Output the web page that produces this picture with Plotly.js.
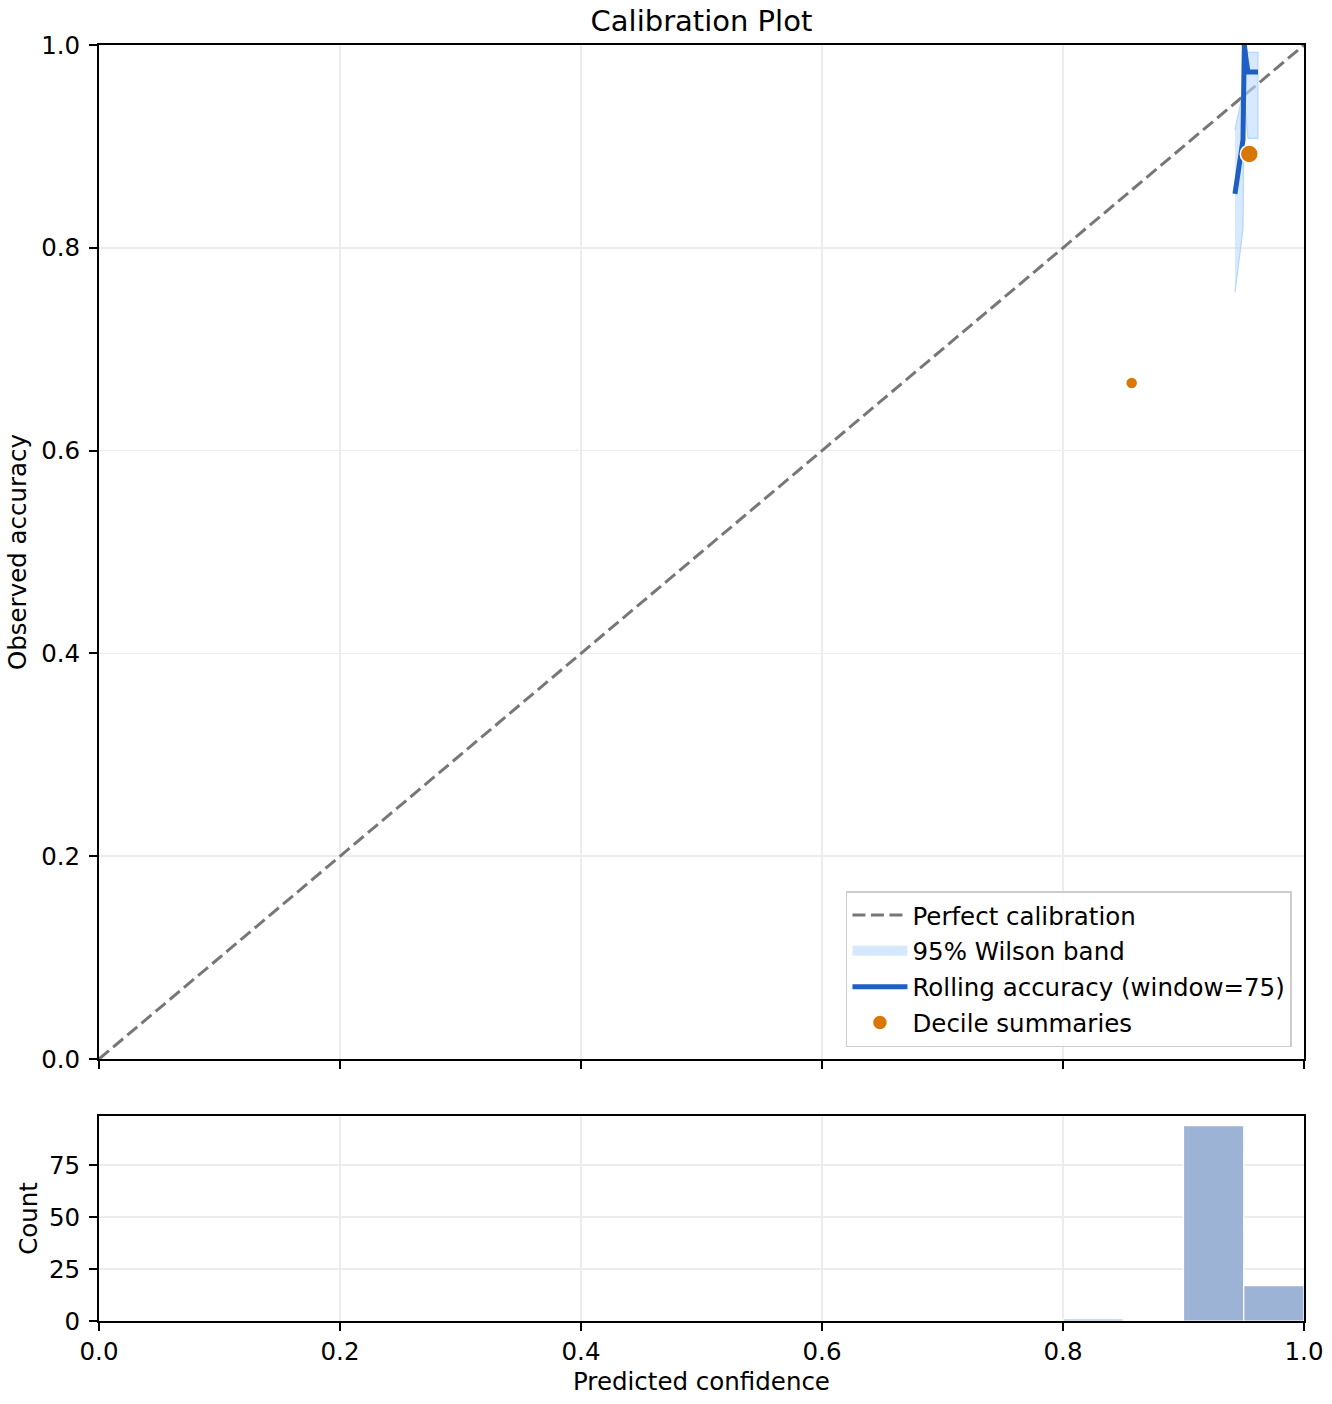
<!DOCTYPE html>
<html>
<head>
<meta charset="utf-8">
<script src="https://cdn.plot.ly/plotly-3.0.1.min.js"></script>
<style>body{margin:0;padding:0;background:#fff;}#chart{width:1332px;height:1404px;}</style>
</head>
<body>
<div id="chart"></div>
<script>
// ---- data ----
const diagX = [0, 1];
const diagY = [0, 1];

// rolling accuracy (window = 75), in order of the rolling window
const rollX   = [0.9427, 0.9444, 0.9461, 0.9478, 0.9494, 0.9495, 0.9496, 0.9497, 0.9498, 0.9500, 0.9502, 0.9505, 0.9518, 0.9535, 0.9560, 0.9590, 0.9618];
const rollAcc = [0.8533, 0.8667, 0.8800, 0.8933, 0.9067, 0.9200, 0.9333, 0.9467, 0.9600, 0.9733, 0.9867, 1.0000, 0.9867, 0.9733, 0.9733, 0.9733, 0.9733];
const rollLo  = [0.7562, 0.7717, 0.7874, 0.8034, 0.8197, 0.8363, 0.8533, 0.8707, 0.8889, 0.9079, 0.9283, 0.9513, 0.9283, 0.9079, 0.9079, 0.9079, 0.9079];
const rollHi  = [0.9161, 0.9259, 0.9356, 0.9450, 0.9541, 0.9628, 0.9712, 0.9791, 0.9863, 0.9927, 0.9976, 1.0000, 0.9976, 0.9927, 0.9927, 0.9927, 0.9927];

// decile summaries
const decX = [0.857, 0.9546];
const decY = [0.6667, 0.8925];
const decSize = [12, 18];

// histogram of predicted confidence
const binLeft  = [0.80, 0.85, 0.90, 0.95];
const binWidth = 0.05;
const binCount = [1, 0, 94, 17];

const xTicks = [0, 0.2, 0.4, 0.6, 0.8, 1.0];
const yTicks = [0, 0.2, 0.4, 0.6, 0.8, 1.0];
const countTicks = [0, 25, 50, 75];

// ---- build traces ----
const FONT = 'DejaVu Sans, Liberation Sans, sans-serif';
const bandX = rollX.concat(rollX.slice().reverse());
const bandY = rollHi.concat(rollLo.slice().reverse());
const BAND_FILL = 'rgba(191,219,254,0.62)';

const traces = [
  {x: diagX, y: diagY, mode: 'lines', name: 'Perfect calibration',
   line: {color: '#777777', width: 3, dash: '13px,5.5px'}, xaxis: 'x', yaxis: 'y', legendgroup: 'a'},
  {x: bandX, y: bandY, mode: 'lines', fill: 'toself', name: '95% Wilson band',
   fillcolor: BAND_FILL, line: {color: 'rgba(170,206,252,0.8)', width: 1.2},
   xaxis: 'x', yaxis: 'y', showlegend: false},
  // legend entry for the band
  {x: [null], y: [null], mode: 'lines', name: '95% Wilson band',
   line: {color: '#d6e8fe', width: 18}, xaxis: 'x', yaxis: 'y', legendgroup: 'b'},
  {x: rollX, y: rollAcc, mode: 'lines', name: 'Rolling accuracy (window=75)',
   line: {color: '#1f5ec4', width: 5}, xaxis: 'x', yaxis: 'y', legendgroup: 'c'},
  {x: decX, y: decY, mode: 'markers', name: 'Decile summaries',
   marker: {color: '#d97706', opacity: 1, size: decSize, line: {color: '#ffffff', width: 1.5}},
   opacity: 1, xaxis: 'x', yaxis: 'y', legendgroup: 'd'},
  {x: binLeft.map(v => v + binWidth / 2), y: binCount, type: 'bar', width: binWidth,
   marker: {color: '#9db3d5', line: {color: '#ffffff', width: 1.2}},
   xaxis: 'x2', yaxis: 'y2', showlegend: false}
];

const axisCommon = {
  showline: true, mirror: true, linecolor: '#000', linewidth: 2,
  ticks: 'outside', ticklen: 8, tickwidth: 2, tickcolor: '#000',
  showgrid: true, gridcolor: '#ececec', gridwidth: 1.5, zeroline: false,
  tickfont: {family: FONT, size: 24.5, color: '#000'}
};

const layout = {
  width: 1332, height: 1404,
  margin: {l: 99, r: 28, t: 45, b: 83},
  paper_bgcolor: '#fff', plot_bgcolor: '#fff',
  font: {family: FONT, size: 24.5, color: '#000'},
  title: {text: 'Calibration Plot', font: {family: FONT, size: 29, color: '#000'},
          x: 0.5266, xanchor: 'center', y: 1 - 21 / 1404, yanchor: 'middle', yref: 'container'},
  showlegend: true,
  legend: {x: 0.990, xanchor: 'right', y: 0.2147, yanchor: 'bottom',
           bgcolor: 'rgba(255,255,255,0.9)', bordercolor: '#cccccc', borderwidth: 1.5,
           font: {family: FONT, size: 24.5, color: '#000'},
           traceorder: 'grouped', tracegroupgap: 1, itemwidth: 55},
  xaxis: Object.assign({}, axisCommon, {domain: [0, 1], anchor: 'y', range: [0, 1],
           tickvals: xTicks, showticklabels: false}),
  yaxis: Object.assign({}, axisCommon, {domain: [0.2053, 1], anchor: 'x', range: [0, 1],
           tickvals: yTicks, tickformat: '.1f', ticklabelstandoff: 4,
           title: {text: 'Observed accuracy', standoff: 8, font: {family: FONT, size: 24.5}}}),
  xaxis2: Object.assign({}, axisCommon, {domain: [0, 1], anchor: 'y2', range: [0, 1],
           tickvals: xTicks, tickformat: '.1f', ticklabelstandoff: 0,
           title: {text: 'Predicted confidence', standoff: 7, font: {family: FONT, size: 24.5}}}),
  yaxis2: Object.assign({}, axisCommon, {domain: [0, 0.1607], anchor: 'x2', range: [0, 98.7],
           tickvals: countTicks, ticklabelstandoff: 4,
           title: {text: 'Count', standoff: 4, font: {family: FONT, size: 24.5}}}),
  bargap: 0
};

Plotly.newPlot('chart', traces, layout, {displayModeBar: false, staticPlot: true});
</script>
</body>
</html>
